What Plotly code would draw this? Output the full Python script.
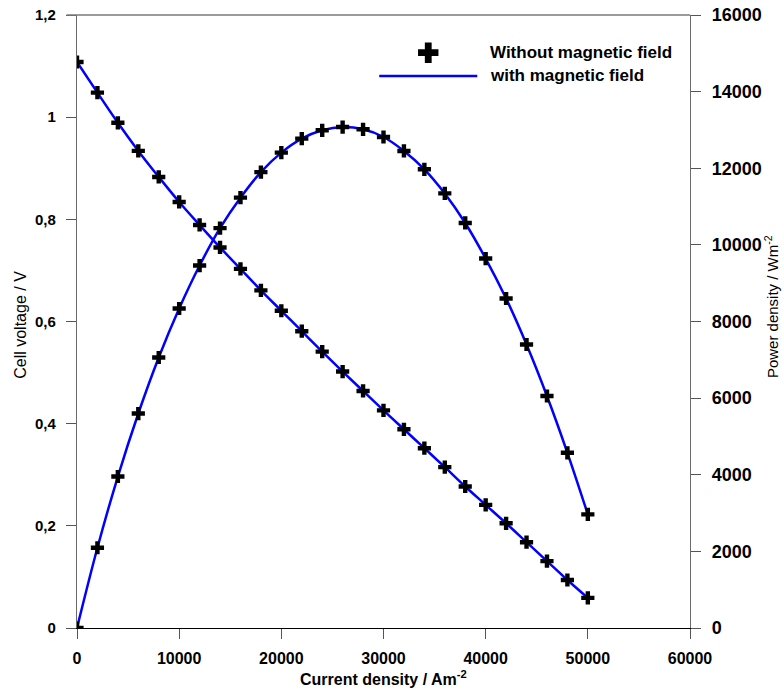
import plotly.graph_objects as go

# ---- data ----
current_density = [0, 2000, 4000, 6000, 8000, 10000, 12000, 14000, 16000, 18000,
                   20000, 22000, 24000, 26000, 28000, 30000, 32000, 34000, 36000,
                   38000, 40000, 42000, 44000, 46000, 48000, 50000]
cell_voltage = [1.108, 1.048, 0.989, 0.934, 0.883, 0.834, 0.789, 0.745, 0.703, 0.661,
                0.621, 0.581, 0.541, 0.502, 0.464, 0.426, 0.389, 0.352, 0.315, 0.277,
                0.241, 0.205, 0.168, 0.131, 0.094, 0.059]
power_density = [0, 2095, 3954, 5598, 7060, 8339, 9461, 10436, 11232, 11900,
                 12408, 12773, 12990, 13076, 13016, 12816, 12451, 11973, 11343, 10572,
                 9643, 8600, 7400, 6055, 4573, 2965]

x_tickvals = [0, 10000, 20000, 30000, 40000, 50000, 60000]
x_ticktext = ["0", "10000", "20000", "30000", "40000", "50000", "60000"]
y_tickvals = [0, 0.2, 0.4, 0.6, 0.8, 1.0, 1.2]
y_ticktext = ["0", "0,2", "0,4", "0,6", "0,8", "1", "1,2"]
y2_tickvals = [0, 2000, 4000, 6000, 8000, 10000, 12000, 14000, 16000]
y2_ticktext = ["0", "2000", "4000", "6000", "8000", "10000", "12000", "14000", "16000"]

legend_labels = ["Without magnetic field", "with magnetic field"]

BLUE = "#0000ff"
FONT = "Liberation Sans, Arial, sans-serif"

fig = go.Figure()

# lines (with magnetic field)
fig.add_trace(go.Scatter(x=current_density, y=cell_voltage, mode="lines",
                         line=dict(color=BLUE, width=2.5, shape="spline"),
                         showlegend=False, hoverinfo="skip"))
fig.add_trace(go.Scatter(x=current_density, y=power_density, mode="lines",
                         line=dict(color=BLUE, width=2.5, shape="spline"),
                         yaxis="y2", showlegend=False, hoverinfo="skip"))
# markers (without magnetic field)
fig.add_trace(go.Scatter(x=current_density, y=cell_voltage, mode="markers",
                         marker=dict(symbol="cross", size=11, color="black"),
                         showlegend=False))
fig.add_trace(go.Scatter(x=current_density, y=power_density, mode="markers",
                         marker=dict(symbol="cross", size=11, color="black"),
                         yaxis="y2", showlegend=False))

# custom legend glyph (marker) on an invisible paper-like axis pair
fig.add_trace(go.Scatter(x=[0.573], y=[0.9385], mode="markers",
                         marker=dict(symbol="cross", size=17, color="black"),
                         xaxis="x3", yaxis="y3", showlegend=False, hoverinfo="skip"))

fig.update_layout(
    width=784, height=692,
    margin=dict(l=77, r=94, t=15, b=64, autoexpand=False),
    paper_bgcolor="white", plot_bgcolor="white",
    font=dict(family=FONT, color="black"),
    xaxis=dict(range=[0, 60000], tickvals=x_tickvals, ticktext=x_ticktext,
               showgrid=False, zeroline=False, showline=True, linecolor="black",
               linewidth=1.3, ticks="outside", ticklen=10, tickcolor="#555555",
               tickwidth=1.3, ticklabelstandoff=6, automargin=False,
               tickfont=dict(family=FONT, size=16, color="black", weight="bold")),
    yaxis=dict(range=[0, 1.2], tickvals=y_tickvals, ticktext=y_ticktext,
               showgrid=False, zeroline=False, showline=True, linecolor="#6a6a6a",
               linewidth=1.3, ticks="outside", ticklen=10, tickcolor="#555555",
               tickwidth=1.3, ticklabelstandoff=7, automargin=False,
               tickfont=dict(family=FONT, size=15, color="black", weight="bold")),
    yaxis2=dict(range=[0, 16000], tickvals=y2_tickvals, ticktext=y2_ticktext,
                overlaying="y", side="right", anchor="x",
                showgrid=False, zeroline=False, showline=True, linecolor="#6a6a6a",
                linewidth=1.3, ticks="outside", ticklen=10, tickcolor="#555555",
                tickwidth=1.3, ticklabelstandoff=7, automargin=False,
                tickfont=dict(family=FONT, size=18, color="black", weight="bold")),
    xaxis3=dict(range=[0, 1], domain=[0, 1], visible=False, overlaying="x",
                fixedrange=True, automargin=False),
    yaxis3=dict(range=[0, 1], domain=[0, 1], visible=False, overlaying="y",
                anchor="x3", fixedrange=True, automargin=False),
    showlegend=False,
)

# top border (gray)
fig.add_shape(type="line", xref="paper", yref="paper", x0=-0.017, x1=1, y0=1, y1=1,
              line=dict(color="#7a7a7a", width=1.3))
# legend line
fig.add_shape(type="line", xref="paper", yref="paper", x0=0.493, x1=0.653,
              y0=0.9005, y1=0.9005, line=dict(color=BLUE, width=2.5))

annotations = [
    dict(text=legend_labels[0], x=0.670, y=0.9385, xanchor="left", yanchor="middle"),
    dict(text=legend_labels[1], x=0.670, y=0.901, xanchor="left", yanchor="middle"),
]
for a in annotations:
    fig.add_annotation(xref="paper", yref="paper", showarrow=False,
                       font=dict(family=FONT, size=17, color="black", weight="bold"), **a)

# axis titles
fig.add_annotation(text="Current density / Am<sup>-2</sup>", xref="paper", yref="paper",
                   x=0.5, y=-0.0816, xanchor="center", yanchor="middle", showarrow=False,
                   font=dict(family=FONT, size=16, color="black", weight="bold"))
fig.add_annotation(text="Cell voltage / V", xref="paper", yref="paper",
                   x=-0.092, y=0.494, xanchor="center", yanchor="middle", showarrow=False,
                   textangle=-90, font=dict(family=FONT, size=16, color="black"))
fig.add_annotation(text="Power density / Wm<sup>-2</sup>", xref="paper", yref="paper",
                   x=1.132, y=0.525, xanchor="center", yanchor="middle", showarrow=False,
                   textangle=-90, font=dict(family=FONT, size=15, color="black"))

fig.write_html("out.html")
